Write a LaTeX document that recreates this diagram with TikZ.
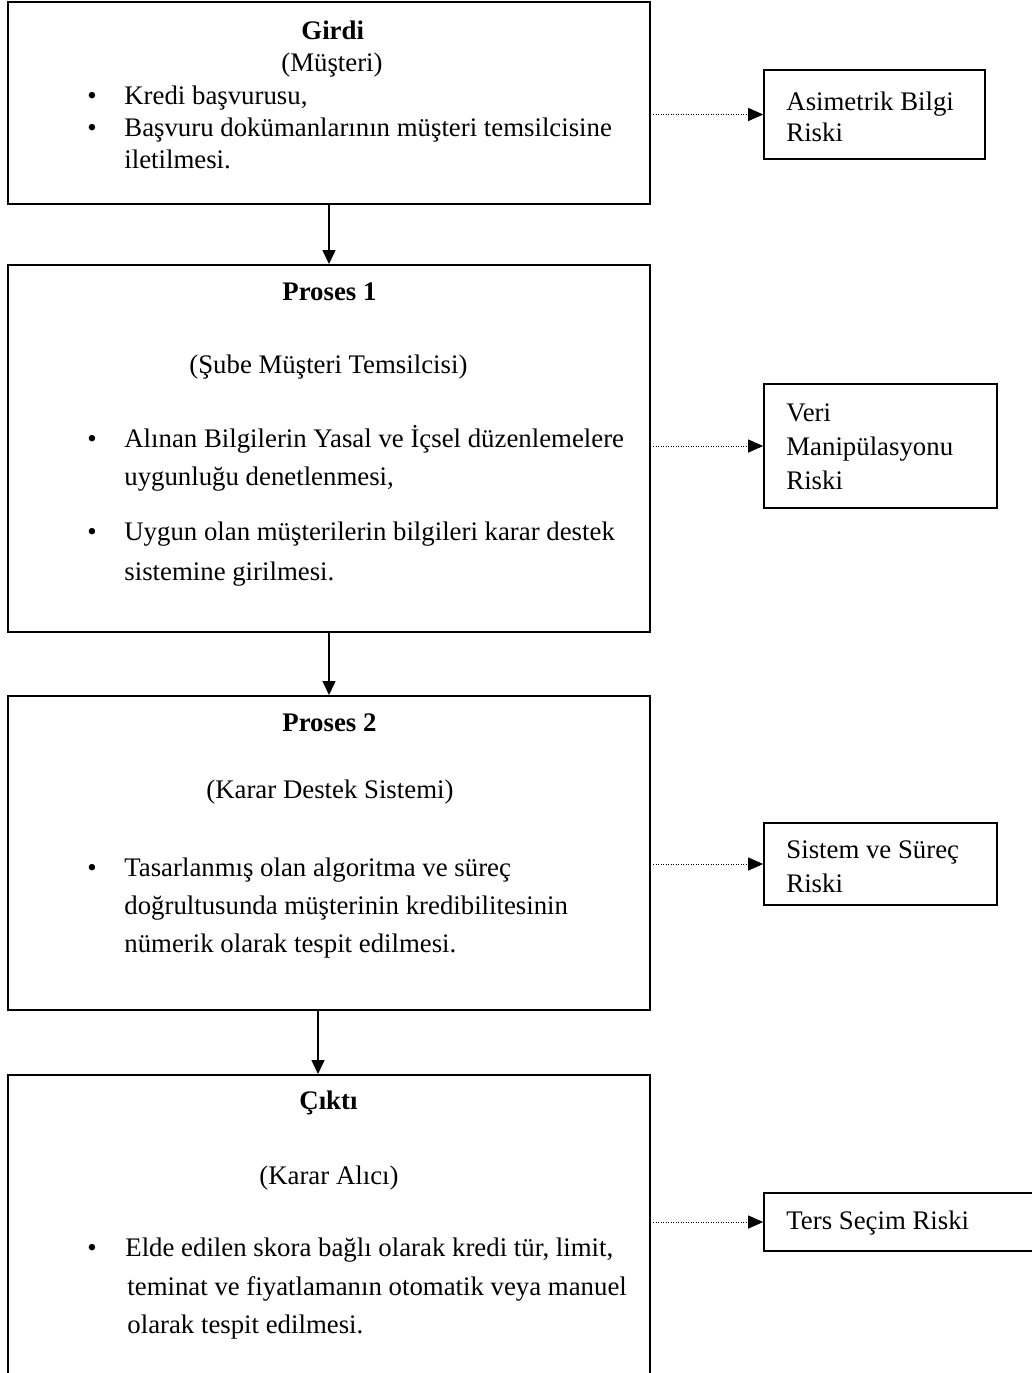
\documentclass[tikz,border=0pt]{standalone}
\usepackage{fontspec}
\setmainfont{Liberation Serif}
\usetikzlibrary{arrows.meta,fit}
\begin{document}
\begin{tikzpicture}[x=0.5pt,y=-0.5pt,
  mainbox/.style={draw, line width=1pt, inner sep=0pt},
  riskbox/.style={draw, line width=0.8pt, inner sep=0pt},
  txt/.style={anchor=base west, inner sep=0pt, font=\fontsize{13.4}{16}\selectfont},
  head/.style={anchor=base west, inner sep=0pt, font=\fontsize{13.4}{16}\selectfont\bfseries},
  flow/.style={-{Triangle[length=7pt,width=6.5pt]}, line width=0.75pt},
  risk/.style={-{Triangle[length=7.5pt,width=6.5pt]}, line width=0.5pt, dash pattern=on 0.5pt off 0.75pt}]
\useasboundingbox (0,0) rectangle (1032,1373);
\clip (0,0) rectangle (1032,1373);

% process chain
\node[mainbox, fit={(8,2)(650,204)}] (in) {};
\node[mainbox, fit={(8,265)(650,632)}] (p1) {};
\node[mainbox, fit={(8,696)(650,1010)}] (p2) {};
\node[mainbox, fit={(8,1075)(650,1420)}] (out) {};

% risk boxes
\node[riskbox, fit={(764,70)(985,159)}] (r1) {};
\node[riskbox, fit={(764,384)(997,508)}] (r2) {};
\node[riskbox, fit={(764,823)(997,905)}] (r3) {};
\node[riskbox, fit={(764,1193)(1060,1251)}] (r4) {};

% Girdi
\node[head] (inH) at (301,39) {Girdi};
\node[txt] (inS) at (281,71) {(Müşteri)};
\node[txt] (inB1) at (87,104) {•};
\node[txt] (inL1) at (124,104) {Kredi başvurusu,};
\node[txt] (inB2) at (87,136) {•};
\node[txt] (inL2) at (124,136) {Başvuru dokümanlarının müşteri temsilcisine};
\node[txt] (inL3) at (124,168) {iletilmesi.};

% Proses 1
\node[head] (p1H) at (282,300) {Proses 1};
\node[txt] (p1S) at (189,373) {(Şube Müşteri Temsilcisi)};
\node[txt] (p1B1) at (87,447) {•};
\node[txt] (p1L1) at (124,447) {Alınan Bilgilerin Yasal ve İçsel düzenlemelere};
\node[txt] (p1L2) at (124,485) {uygunluğu denetlenmesi,};
\node[txt] (p1B2) at (87,540) {•};
\node[txt] (p1L3) at (124,540) {Uygun olan müşterilerin bilgileri karar destek};
\node[txt] (p1L4) at (124,580) {sistemine girilmesi.};

% Proses 2
\node[head] (p2H) at (282,731) {Proses 2};
\node[txt] (p2S) at (206,798) {(Karar Destek Sistemi)};
\node[txt] (p2B1) at (87,876) {•};
\node[txt] (p2L1) at (124,876) {Tasarlanmış olan algoritma ve süreç};
\node[txt] (p2L2) at (124,914) {doğrultusunda müşterinin kredibilitesinin};
\node[txt] (p2L3) at (124,952) {nümerik olarak tespit edilmesi.};

% Çıktı
\node[head] (outH) at (299,1109) {Çıktı};
\node[txt] (outS) at (259,1184) {(Karar Alıcı)};
\node[txt] (outB1) at (87,1256) {•};
\node[txt] (outL1) at (125,1256) {Elde edilen skora bağlı olarak kredi tür, limit,};
\node[txt] (outL2) at (127,1295) {teminat ve fiyatlamanın otomatik veya manuel};
\node[txt] (outL3) at (127,1333) {olarak tespit edilmesi.};

% risk texts
\node[txt] (r1a) at (786,110) {Asimetrik Bilgi};
\node[txt] (r1b) at (786,141) {Riski};
\node[txt] (r2a) at (786,421) {Veri};
\node[txt] (r2b) at (786,455) {Manipülasyonu};
\node[txt] (r2c) at (786,489) {Riski};
\node[txt] (r3a) at (786,858) {Sistem ve Süreç};
\node[txt] (r3b) at (786,892) {Riski};
\node[txt] (r4a) at (786,1229) {Ters Seçim Riski};

% flow connectors
\draw[flow] (in.south) -- (p1.north);
\draw[flow] (p1.south) -- (p2.north);
\draw[flow] ([xshift=-5.5pt]p2.south) -- ([xshift=-5.5pt]out.north);

% risk connectors
\draw[risk] ([xshift=1pt]in.east |- r1.west) -- (r1.west);
\draw[risk] ([xshift=1pt]p1.east |- r2.west) -- (r2.west);
\draw[risk] ([xshift=1pt]p2.east |- r3.west) -- (r3.west);
\draw[risk] ([xshift=1pt]out.east |- r4.west) -- (r4.west);
\end{tikzpicture}
\end{document}
